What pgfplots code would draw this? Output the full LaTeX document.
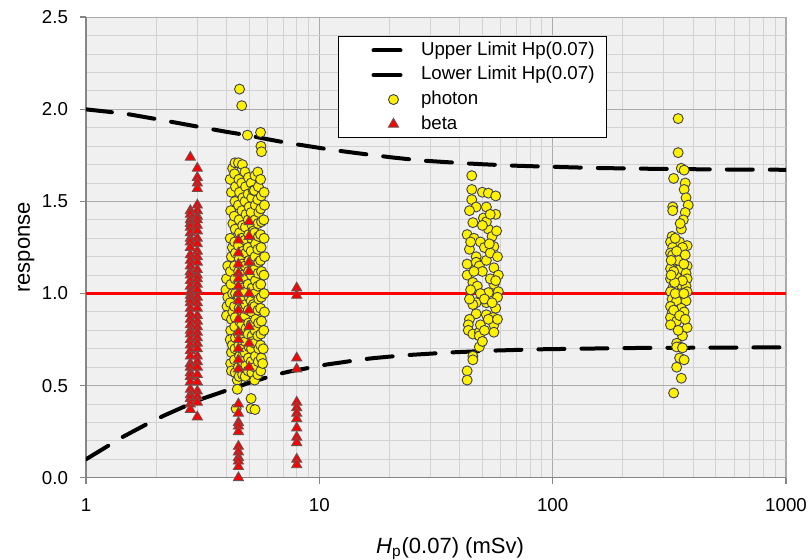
\documentclass[border=0pt]{standalone}
\usepackage{fontspec}
\setmainfont{Liberation Sans}
\usepackage{pgfplots}
\pgfplotsset{compat=1.18}
\definecolor{bgc}{HTML}{F0F0F0}
\definecolor{majgrid}{HTML}{ABABAB}
\definecolor{mingrid}{HTML}{D2D2D2}
\definecolor{axc}{HTML}{868686}
\definecolor{ptedge}{HTML}{404050}
\definecolor{btedge}{HTML}{6E5050}
\pgfplotsset{
 lineleg/.style={legend image code/.code={\path (-11.5pt,0pt); \draw[##1, solid] (1pt,0pt) -- (14.5pt,0pt);}},
 markleg/.style={legend image code/.code={\path (-11.5pt,0pt) (15.5pt,0pt); \draw[##1] plot coordinates {(11pt,0pt)};}},
}
\begin{document}
\begin{tikzpicture}
\begin{axis}[
 scale only axis, width=350pt, height=230.2pt,
 xmode=log, xmin=1, xmax=1000, ymin=0, ymax=2.5,
 xtick={1,10,100,1000}, xticklabels={1,10,100,1000},
 minor xtick={2,3,4,5,6,7,8,9,20,30,40,50,60,70,80,90,200,300,400,500,600,700,800,900},
 ytick={0,0.5,1,1.5,2,2.5},
 minor y tick num=4,
 grid=both,
 major grid style={draw=majgrid, line width=0.6pt},
 minor grid style={draw=mingrid, line width=0.5pt},
 axis background/.style={fill=bgc},
 axis lines*=left,
 axis line style={draw=axc, line width=0.8pt},
 tick align=outside, major tick length=3pt, minor tick length=0pt,
 tick style={draw=axc, line width=0.8pt},
 tick label style={font=\fontsize{9.35}{11}\selectfont},
 /pgf/number format/assume math mode=true,
 yticklabel style={/pgf/number format/.cd, fixed, fixed zerofill, precision=1, /tikz/.cd, xshift=-2.5pt},
 xticklabel style={yshift=-4pt},
 xlabel={\textit{H}\textsubscript{p}(0.07) (mSv)},
 ylabel={response},
 label style={font=\fontsize{11}{13}\selectfont},
 xlabel style={at={([yshift=-38pt]axis description cs:0.52,0)}, anchor=base},
 ylabel style={at={([xshift=-28pt]axis description cs:0,0.5)}, anchor=base},
 legend style={at={(axis description cs:0.36,0.9588)}, anchor=north west,
   draw=black, line width=0.5pt, fill=white,
   font=\fontsize{9.35}{11}\selectfont,
   inner xsep=4pt, inner ysep=1.3pt, row sep=1.3pt, column sep=7pt,
   nodes={inner ysep=1pt, inner xsep=2pt, text height=7pt, text depth=2pt}},
 legend cell align=left,
]
\coordinate (ll) at (axis description cs:0,0);
\coordinate (ur) at (axis description cs:1,1);

\addplot[black, line width=2pt, dash pattern=on 13pt off 8.5pt, line cap=round, lineleg]
coordinates {(1,2.0) (1.33,1.983) (1.5,1.975) (2.03,1.946) (2.5,1.925) (3.14,1.902) (4,1.878) (4.9,1.860) (6,1.838) (7.5,1.815) (8.5,1.805) (10,1.791) (11.5,1.779) (15,1.760) (20.5,1.739) (27,1.723) (30,1.719) (41,1.708) (50,1.702) (66,1.695) (88,1.690) (150,1.682) (237,1.678) (400,1.675) (600,1.673) (1000,1.672)};
\addlegendentry{Upper Limit Hp(0.07)}

\addplot[black, line width=2pt, dash pattern=on 13pt off 8.5pt, line cap=round, lineleg]
coordinates {(1,0.10) (1.27,0.18) (1.44,0.222) (1.88,0.30) (2.14,0.335) (2.79,0.40) (3.17,0.43) (4.14,0.48) (5,0.515) (6.33,0.555) (7.35,0.575) (10.8,0.615) (12.3,0.625) (15.2,0.642) (17.3,0.65) (23.3,0.665) (36.3,0.68) (55.3,0.69) (86,0.697) (207,0.704) (1000,0.708)};
\addlegendentry{Lower Limit Hp(0.07)}

\addplot[only marks, mark=*, mark size=2.5pt, mark options={fill=yellow, draw=ptedge, line width=0.45pt}, markleg]
coordinates {
(2.82,1.39) (2.86,1.36) (2.9,1.41)
(4.0,1.08) (3.98,1.02) (4.02,0.93) (4.0,0.88) (4.05,1.15) (4.05,0.98)
(4.15,1.62) (4.2,1.55) (4.17,1.45) (4.15,1.30) (4.2,1.20) (4.16,1.12) (4.18,1.05) (4.15,0.95) (4.2,0.86) (4.17,0.80) (4.15,0.75) (4.2,0.68) (4.17,0.62) (4.2,0.58)
(4.25,1.68) (4.26,1.38) (4.24,1.25) (4.25,1.00) (4.26,0.90) (4.24,0.72)
(4.35,1.71) (4.33,1.65) (4.37,1.58) (4.35,1.50) (4.32,1.42) (4.36,1.35) (4.34,1.28) (4.37,1.22) (4.33,1.15) (4.35,1.08) (4.37,1.00) (4.33,0.93) (4.36,0.87) (4.34,0.82) (4.37,0.76) (4.35,0.70) (4.33,0.64) (4.36,0.57) (4.45,0.53) (4.45,0.48) (4.4,0.375)
(4.55,2.11) (4.5,1.71) (4.52,1.62) (4.55,1.55) (4.5,1.48) (4.53,1.40) (4.55,1.33) (4.5,1.26) (4.54,1.19) (4.51,1.12) (4.55,1.06) (4.5,0.99) (4.53,0.92) (4.55,0.85) (4.5,0.78) (4.52,0.72) (4.55,0.66) (4.5,0.60) (4.53,0.55)
(4.65,2.02) (4.68,1.70) (4.65,1.60) (4.7,1.52) (4.66,1.45) (4.69,1.37) (4.65,1.30) (4.7,1.23) (4.67,1.16) (4.65,1.10) (4.7,1.03) (4.66,0.96) (4.69,0.90) (4.65,0.83) (4.7,0.76) (4.67,0.70) (4.65,0.63) (4.69,0.56)
(4.8,1.66) (4.83,1.58) (4.8,1.50) (4.85,1.43) (4.82,1.36) (4.8,1.29) (4.84,1.22) (4.81,1.15) (4.85,1.08) (4.8,1.01) (4.83,0.94) (4.8,0.88) (4.85,0.81) (4.82,0.74) (4.8,0.68) (4.84,0.61) (4.81,0.55)
(4.92,1.86) (4.97,1.63) (4.95,1.54) (5.0,1.47) (4.96,1.40) (4.98,1.32) (4.95,1.25) (5.0,1.18) (4.97,1.12) (4.95,1.05) (5.0,0.98) (4.96,0.91) (4.98,0.84) (4.95,0.78) (5.0,0.71) (4.97,0.65) (4.95,0.58)
(5.1,1.60) (5.13,1.52) (5.1,1.44) (5.15,1.37) (5.12,1.30) (5.1,1.23) (5.14,1.17) (5.11,1.10) (5.15,1.03) (5.1,0.96) (5.13,0.90) (5.1,0.83) (5.15,0.77) (5.12,0.70) (5.1,0.63) (5.14,0.57) (5.1,0.43) (5.1,0.375)
(5.2,1.56) (5.22,1.34) (5.2,1.14) (5.21,0.94) (5.2,0.74)
(5.3,1.64) (5.27,1.56) (5.32,1.48) (5.3,1.40) (5.28,1.33) (5.33,1.27) (5.3,1.20) (5.27,1.13) (5.32,1.07) (5.3,1.00) (5.28,0.93) (5.33,0.86) (5.3,0.80) (5.27,0.73) (5.32,0.66) (5.3,0.60) (5.28,0.53) (5.3,0.37)
(5.45,1.66) (5.48,1.58) (5.45,1.51) (5.5,1.44) (5.46,1.38) (5.49,1.31) (5.45,1.24) (5.5,1.17) (5.47,1.11) (5.45,1.04) (5.5,0.97) (5.46,0.91) (5.49,0.84) (5.45,0.77) (5.5,0.70) (5.47,0.63) (5.45,0.56)
(5.6,1.875) (5.62,1.80) (5.65,1.77) (5.6,1.62) (5.64,1.53) (5.61,1.46) (5.65,1.39) (5.6,1.32) (5.63,1.25) (5.6,1.18) (5.65,1.12) (5.61,1.05) (5.64,0.98) (5.6,0.92) (5.65,0.85) (5.62,0.78) (5.6,0.72) (5.64,0.65) (5.61,0.58)
(5.8,1.55) (5.82,1.48) (5.78,1.40) (5.8,1.30) (5.83,1.20) (5.79,1.10) (5.8,1.00) (5.82,0.90) (5.78,0.80) (5.75,0.70) (5.72,0.62)
(45,1.64) (45,1.565) (45,1.51) (50,1.55) (53,1.545) (57,1.53) (57,1.43) (50.5,1.41) (45.5,1.385) (43,1.32) (53,1.35) (52,1.39) (55,1.31) (44,1.24) (47,1.20) (56,1.255) (43,1.16) (43,1.10) (47,1.17) (48.5,1.15) (52,1.18) (56,1.14) (58.5,1.10) (45.5,1.06) (47.5,1.04) (56,1.05) (58.5,1.01) (53,1.005) (47,0.95) (45.5,0.94) (52,0.95) (58,0.98) (57,0.92) (47,0.89) (52,0.885) (44,0.86) (55.5,0.87) (56,0.83) (43.5,0.83) (43.5,0.80) (45.5,0.78) (48.5,0.79) (56,0.79) (48.5,0.77) (45.5,0.66) (45.5,0.64) (43,0.58) (43,0.53) (48.5,0.71)
(46,1.30) (49,1.28) (51,1.25) (54,1.22) (44.5,1.28) (50,1.12) (54,1.08) (49,1.00) (51,0.97) (55,0.95) (44,0.97) (46,1.12) (58,1.20) (53.5,1.27) (57.5,1.34) (50,1.37) (47,1.47) (52,1.47) (54,1.43) (44,1.45) (49,0.83) (51,0.80) (53,0.86) (58,0.86) (50,0.74) (44.5,1.02) (57,1.07)
(345,1.95) (345,1.765) (356,1.68) (366,1.67) (330,1.625) (370,1.60) (366,1.565) (373,1.52) (381,1.48) (327,1.47) (327,1.45) (370,1.44) (363,1.40) (356,1.35) (325,1.31) (320,1.28) (350,1.28) (377,1.26) (327,1.25) (320,1.22) (327,1.21) (356,1.20) (327,1.17) (377,1.15) (320,1.135) (350,1.13) (373,1.11) (340,1.09) (377,1.08) (320,1.08) (350,1.05) (373,1.04) (327,1.03) (320,1.01) (377,1.01) (345,0.985) (325,0.97) (340,0.96) (373,0.96) (320,0.93) (356,0.92) (366,0.90) (325,0.895) (320,0.87) (340,0.85) (320,0.83) (377,0.815) (360,0.77) (340,0.73) (350,0.71) (340,0.71) (360,0.705) (350,0.65) (366,0.64) (340,0.60) (356,0.54) (330,0.46)
(335,1.30) (360,1.25) (345,1.18) (365,1.16) (330,1.12) (360,1.07) (335,1.00) (365,1.00) (340,1.23) (352,1.38) (322,1.18) (370,1.21) (330,0.91) (350,0.88) (370,0.86) (345,0.80) (333,1.06) (322,1.10)
};
\addlegendentry{photon}

\addplot[only marks, mark=triangle*, mark size=2.9pt, mark options={fill=red, draw=btedge, line width=0.45pt}, markleg]
coordinates {
(2.8,1.74) (2.8,1.45) (2.8,1.43) (2.8,1.40) (2.8,1.38) (2.8,1.36) (2.8,1.33) (2.8,1.30) (2.8,1.28) (2.8,1.25) (2.8,1.21) (2.8,1.18) (2.8,1.15) (2.8,1.12) (2.8,1.10) (2.8,1.07) (2.8,1.04) (2.8,1.01) (2.8,0.99) (2.8,0.97) (2.8,0.95) (2.8,0.92) (2.8,0.89) (2.8,0.86) (2.8,0.83) (2.8,0.80) (2.8,0.78) (2.8,0.75) (2.8,0.72) (2.8,0.69) (2.8,0.66) (2.8,0.62) (2.8,0.60) (2.8,0.57) (2.8,0.55) (2.8,0.52) (2.8,0.48) (2.8,0.45) (2.8,0.43) (2.8,0.40) (2.8,0.37)
(3.0,1.68) (3.0,1.63) (3.0,1.60) (3.0,1.57) (3.0,1.48) (3.0,1.45) (3.0,1.42) (3.0,1.40) (3.0,1.37) (3.0,1.34) (3.0,1.30) (3.0,1.27) (3.0,1.23) (3.0,1.20) (3.0,1.17) (3.0,1.13) (3.0,1.10) (3.0,1.08) (3.0,1.05) (3.0,1.02) (3.0,0.98) (3.0,0.95) (3.0,0.92) (3.0,0.88) (3.0,0.85) (3.0,0.82) (3.0,0.79) (3.0,0.76) (3.0,0.73) (3.0,0.70) (3.0,0.66) (3.0,0.63) (3.0,0.60) (3.0,0.56) (3.0,0.52) (3.0,0.47) (3.0,0.44) (3.0,0.41) (3.0,0.33)
(4.5,1.29) (4.5,1.22) (4.5,1.16) (4.5,1.11) (4.5,1.08) (4.5,1.04) (4.5,1.00) (4.5,0.96) (4.5,0.91) (4.5,0.86) (4.5,0.79) (4.5,0.75) (4.5,0.70) (4.5,0.64) (4.5,0.59) (4.5,0.40) (4.5,0.35) (4.5,0.30) (4.5,0.28) (4.5,0.25) (4.5,0.17) (4.5,0.14) (4.5,0.11) (4.5,0.09) (4.5,0.06) (4.5,0.0)
(5.0,1.39) (5.0,1.31) (5.0,1.17) (5.0,1.12) (5.0,1.00) (5.0,0.91) (5.0,0.82) (5.0,0.73) (5.0,0.60)
(8.0,1.03) (8.0,0.99) (8.0,0.65) (8.0,0.59) (8.0,0.41) (8.0,0.38) (8.0,0.35) (8.0,0.32) (8.0,0.27) (8.0,0.22) (8.0,0.19) (8.0,0.10) (8.0,0.07)
};
\addlegendentry{beta}

\addplot[red, line width=1.5pt, forget plot] coordinates {(1,1) (1000,1)};
\end{axis}
\pgfresetboundingbox
\path ([shift={(-43pt,-41.15pt)}]ll) rectangle ([shift={(11.5pt,8.65pt)}]ur);
\end{tikzpicture}
\end{document}
